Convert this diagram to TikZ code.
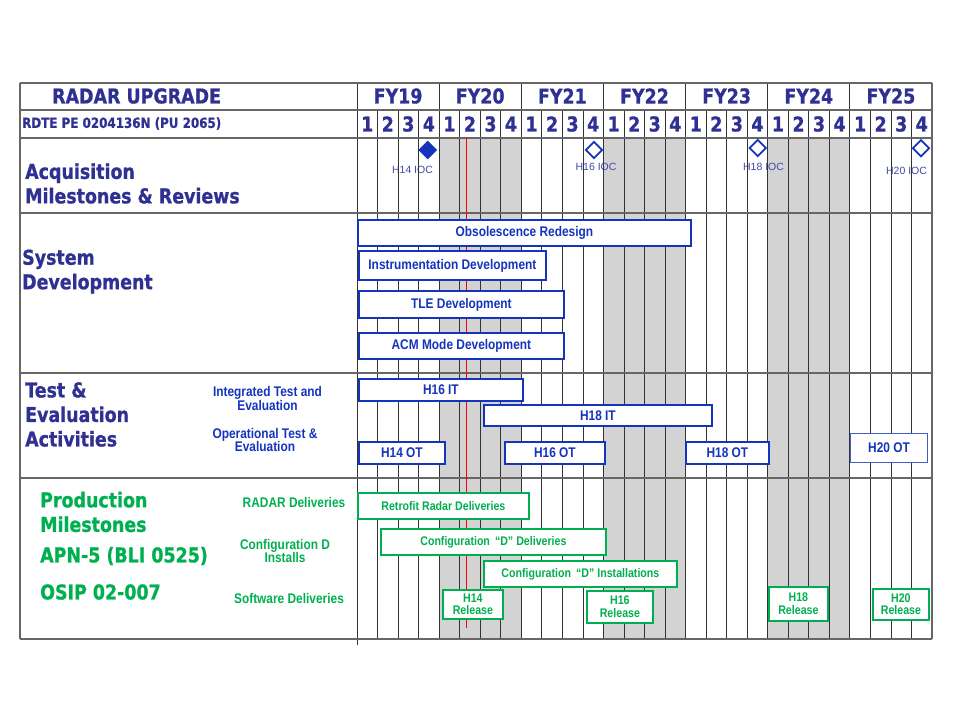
\documentclass[tikz,border=0pt]{standalone}
\usepackage{fontspec}
\setmainfont{Liberation Sans}
\newfontfamily\headfont{DejaVu Sans}[FakeStretch=0.85, BoldFeatures={FakeBold=0.8}]
\newfontfamily\barfont{Liberation Sans}[FakeStretch=0.85]
\usetikzlibrary{shapes.geometric}

\definecolor{headblue}{RGB}{46,49,146}
\definecolor{barblue}{RGB}{20,52,190}
\definecolor{iocblue}{RGB}{64,72,170}
\definecolor{prodgreen}{RGB}{0,176,80}
\definecolor{fygray}{RGB}{211,211,211}

\newcommand{\qwid}{20.536} % one quarter
\newcommand{\tlx}{357}     % start of the time line
% style, name, x1, y1, x2, y2, text
\newcommand{\taskbox}[7]{%
  \node[#1, minimum width={#5-#3}, minimum height={#6-#4}] (#2) at (#3,#4) {#7};}

\tikzset{
  head/.style={font=\headfont\bfseries\fontsize{20.5}{24.5}\selectfont, text=headblue,
    anchor=west, inner sep=0pt, align=left},
  prodhead/.style={head, text=prodgreen},
  fyhd/.style={font=\headfont\bfseries\fontsize{20.5}{24}\selectfont, text=headblue, inner sep=0pt},
  sublbl/.style={font=\barfont\bfseries\fontsize{14}{13.5}\selectfont, text=barblue,
    align=center, inner sep=0pt},
  prodlbl/.style={sublbl, text=prodgreen},
  bluebar/.style={draw=barblue, line width=1.8pt, fill=white, text=barblue, anchor=north west,
    inner sep=0pt, font=\barfont\bfseries\fontsize{14}{16}\selectfont},
  thinbar/.style={bluebar, line width=1pt, draw=barblue!80},
  greenbar/.style={bluebar, draw=prodgreen, text=prodgreen, align=center,
    font=\barfont\bfseries\fontsize{12.5}{12.5}\selectfont},
  ioc/.style={diamond, draw=barblue, line width=1.8pt, fill=white, minimum width=17,
    minimum height=17, inner sep=0pt},
  ioclbl/.style={font=\fontsize{10.5}{12}\selectfont, text=iocblue, inner sep=0pt},
  rowline/.style={draw=black!60, line width=1.2pt},
  gridline/.style={draw=black!80, line width=0.8pt},
}

\begin{document}
\begin{tikzpicture}[x=1pt, y=-1pt]
\useasboundingbox (0,0) rectangle (960,720);

% shaded fiscal years
\foreach \q in {4,12,20}
  \fill[fygray] ({\tlx+\q*\qwid},138) rectangle ({\tlx+(\q+4)*\qwid},639);

% milestone labels, under the grid
\node[ioclbl] (l14) at (412.5,169.5) {H14 IOC};
\node[ioclbl] (l16) at (596,166.5) {H16 IOC};
\node[ioclbl] (l18) at (763.5,167) {H18 IOC};
\node[ioclbl] (l20) at (906.5,170.5) {H20 IOC};

% grid
\foreach \q in {1,...,27}
  \draw[gridline] ({\tlx+\q*\qwid},110) -- ({\tlx+\q*\qwid},639);
\foreach \k in {1,...,6}
  \draw[gridline] ({\tlx+4*\k*\qwid},83) -- ({\tlx+4*\k*\qwid},639);
\draw[gridline] (\tlx,83) -- (\tlx,645);
\foreach \y in {83,110,138,213,373,478,639}
  \draw[rowline] (20,\y) -- (932,\y);
\draw[rowline] (20,83) -- (20,639);
\draw[rowline] (932,83) -- (932,639);

% today
\draw[red, line width=0.8pt] (466.7,138) -- (466.7,628);

% years and quarters
\foreach \n [count=\k from 0] in {19,...,25}
  \node[fyhd] (fy\n) at ({\tlx+(4*\k+2)*\qwid},96) {FY\n};
\foreach \i in {0,...,27} {
  \pgfmathtruncatemacro\qn{mod(\i,4)+1}
  \node[fyhd] (q\i) at ({\tlx+(\i+0.5)*\qwid},124) {\qn};
}

% row titles
\node[head] (title) at (52,96) {RADAR UPGRADE};
\node[head, font=\headfont\bfseries\fontsize{14}{16}\selectfont] (rdte) at (22,123.5) {RDTE PE 0204136N (PU 2065)};
\node[head] (acq) at (25,183.5) {Acquisition\\Milestones \& Reviews};
\node[head] (sysdev) at (22,271.5) {System\\Development};
\node[head] (te) at (25,414.5) {Test \&\\Evaluation\\Activities};
\node[sublbl] (itlbl) at (267.5,398.5) {Integrated Test and\\Evaluation};
\node[sublbl] (otlbl) at (265,440) {Operational Test \&\\Evaluation};
\node[prodhead] (prod) at (40,512) {Production\\Milestones};
\node[prodhead] (apn) at (40,556) {APN-5 (BLI 0525)};
\node[prodhead] (osip) at (40,592) {OSIP 02-007};
\node[prodlbl] (radlbl) at (294,502) {RADAR Deliveries};
\node[prodlbl] (cfglbl) at (285,551) {Configuration D\\Installs};
\node[prodlbl] (swlbl) at (289,598) {Software Deliveries};

% milestones
\node[ioc, fill=barblue] (ioc14) at (427.7,150) {};
\node[ioc] (ioc16) at (594,150) {};
\node[ioc] (ioc18) at (757.7,148) {};
\node[ioc] (ioc20) at (921,148.3) {};

% system development
\taskbox{bluebar}{obs}{357}{219}{690}{245}{Obsolescence Redesign}
\taskbox{bluebar}{instr}{358}{250}{545}{279}{Instrumentation Development}
\taskbox{bluebar}{tle}{358}{290}{563}{317}{TLE Development}
\taskbox{bluebar}{acm}{358}{332}{563}{358}{ACM Mode Development}

% test and evaluation
\taskbox{bluebar}{it16}{358}{378}{522}{400}{H16 IT}
\taskbox{bluebar}{it18}{483}{404}{711}{425}{H18 IT}
\taskbox{bluebar}{ot14}{358}{441}{444}{463}{H14 OT}
\taskbox{bluebar}{ot16}{504}{441}{604}{463}{H16 OT}
\taskbox{bluebar}{ot18}{685}{441}{768}{463}{H18 OT}
\taskbox{thinbar}{ot20}{850}{433}{927}{462}{H20 OT}

% production
\taskbox{greenbar}{retro}{357}{492}{528}{518}{Retrofit Radar Deliveries}
\taskbox{greenbar}{cfgdel}{380}{528}{605}{554}{Configuration \,“D” Deliveries}
\taskbox{greenbar}{cfginst}{483}{560}{676}{586}{Configuration \,“D” Installations}
\taskbox{greenbar}{rel14}{442}{589}{502}{618}{H14\\Release}
\taskbox{greenbar}{rel16}{586}{590}{652}{622}{H16\\Release}
\taskbox{greenbar}{rel18}{768}{586}{827}{620}{H18\\Release}
\taskbox{greenbar}{rel20}{872}{588}{928}{619}{H20\\Release}
\end{tikzpicture}
\end{document}
